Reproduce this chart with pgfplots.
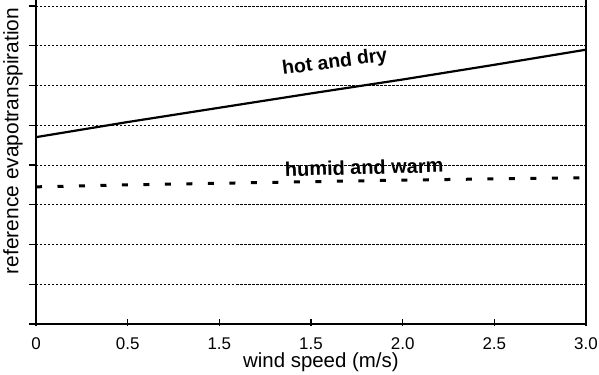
\documentclass[border=0pt]{standalone}
\usepackage{fontspec}
\setmainfont{Liberation Sans}
\usepackage{pgfplots}
\pgfplotsset{compat=1.18}
\begin{document}
\begin{tikzpicture}
\path[use as bounding box] (-36bp,-51bp) rectangle (563bp,324bp);
\begin{axis}[
  scale only axis, width=550bp, height=324bp,
  anchor=south west, at={(0,0)},
  xmin=0, xmax=3, ymin=0, ymax=8.15,
  axis x line*=bottom, axis y line*=left,
  axis line style={line width=1.8bp, -},
  xtick={0,0.5,1,1.5,2,2.5,3},
  xticklabels={0,0.5,1.5,1.5,2.0,2.5,3.0},
  ytick={0,1,2,3,4,5,6,7,8}, yticklabels={},
  ymajorgrids,
  grid style={black, line width=0.8bp, dash pattern=on 2.5bp off 1.5bp},
  tick align=outside, major tick length=7bp,
  tick style={black, line width=1.2bp},
  x tick style={yshift=5bp},
  x tick label style={font=\fontsize{17}{20}\selectfont, yshift=-3bp},
  xlabel={wind speed (m/s)},
  ylabel={reference evapotranspiration},
  xlabel style={font=\fontsize{20.5}{24}\selectfont, at={(axis description cs:0.518,-0.118)}, anchor=center},
  ylabel style={font=\fontsize{21}{24}\selectfont, at={(axis description cs:-0.042,0.565)}, anchor=center},
  clip=false,
]
\draw[line width=1.8bp] (rel axis cs:1,0) -- (rel axis cs:1,1);
\addplot[black, line width=2.2bp] coordinates {(0,4.70)(0.5,5.08)(1,5.44)(1.5,5.80)(2,6.15)(2.5,6.52)(3,6.90)};
\addplot[black, line width=3bp, dash pattern=on 6bp off 15.5bp] coordinates {(0,3.45)(0.5,3.50)(1,3.54)(1.5,3.58)(2,3.62)(2.5,3.65)(3,3.68)};
\node[font=\fontsize{19.5}{22}\selectfont\bfseries, rotate=7.5] at (axis cs:1.63,6.57) {hot and dry};
\node[font=\fontsize{20}{22}\selectfont\bfseries, rotate=1.5] at (axis cs:1.79,3.94) {humid and warm};
\end{axis}
\end{tikzpicture}
\end{document}
